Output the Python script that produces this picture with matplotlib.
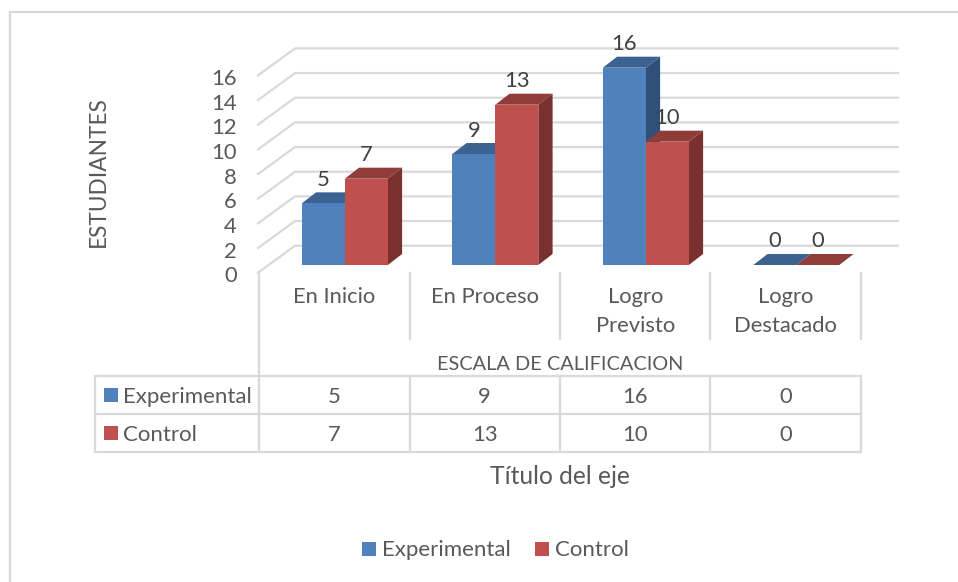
import matplotlib
matplotlib.use("Agg")
import matplotlib.pyplot as plt
from matplotlib.lines import Line2D
from matplotlib.patches import Rectangle
from matplotlib.transforms import ScaledTranslation

plt.rcParams['font.family'] = ['Lato', 'DejaVu Sans']

categories = ["En Inicio", "En Proceso", "Logro\nPrevisto", "Logro\nDestacado"]
experimental = [5, 9, 16, 0]
control = [7, 13, 10, 0]
series_names = ["Experimental", "Control"]
y_ticks = [0, 2, 4, 6, 8, 10, 12, 14, 16]

W, H = 958, 582
BLUE, BLUE_TOP, BLUE_SIDE = "#4F81BD", "#3C6291", "#2F5079"
RED, RED_TOP, RED_SIDE = "#C0504D", "#903C39", "#7A302E"
GRID = "#D9D9D9"
TXT = "#595959"
TXT2 = "#404040"
FS = 15.8
dpi = 100

fig = plt.figure(figsize=(W / dpi, H / dpi), dpi=dpi, facecolor="white")

def fx(p): return p / W
def fy(p): return 1 - p / H

# chart frame
fig.add_artist(Line2D([fx(10), fx(10)], [fy(582), fy(12)], color=GRID, lw=1.6))
fig.add_artist(Line2D([fx(10), fx(958)], [fy(12), fy(12)], color=GRID, lw=1.6))

# plot axes: x = category index, y = value on the plane of the bar fronts
px_left, px_right, px_base, px_top = 259.0, 861.0, 265.0, 67.7
ax = fig.add_axes([fx(px_left), fy(px_base), (px_right - px_left) / W, (px_base - px_top) / H])
ax.set_xlim(0, 4)
ax.set_ylim(0, 16)
ax.patch.set_visible(False)
for s in ax.spines.values():
    s.set_visible(False)

ux = (px_right - px_left) / 4
uy = (px_base - px_top) / 16
def dx(p): return p / ux
def dy(p): return p / uy

# walls
for v in y_ticks:
    back = v + dy(19.3)
    front = v - dy(7.7)
    ax.plot([dx(-1), dx(36), dx(639)], [front, back, back], color=GRID, lw=1.6,
            clip_on=False, zorder=1, solid_joinstyle="miter")

# 3D columns
bw = dx(43)
off = dx(85.8)
ddx, ddy = dx(14.3), dy(11)
for j, (vals, c, ct, cs) in enumerate([(experimental, BLUE, BLUE_TOP, BLUE_SIDE),
                                       (control, RED, RED_TOP, RED_SIDE)]):
    for i, v in enumerate(vals):
        x0 = i + off - bw + j * bw
        x1 = x0 + bw
        z = 3 + j * 3
        ax.fill([x1, x1 + ddx, x1 + ddx, x1], [0, ddy, v + ddy, v], color=cs, lw=0, zorder=z, clip_on=False)
        ax.fill([x0, x0 + ddx, x1 + ddx, x1], [v, v + ddy, v + ddy, v], color=ct, lw=0, zorder=z + 0.1, clip_on=False)
        ax.bar(x0, v, width=bw, align="edge", color=c, lw=0, zorder=z + 0.2, clip_on=False)
        ax.annotate(str(v), (x0 + bw / 2, v), xytext=(0, 23.5 * 72 / dpi), textcoords="offset points",
                    ha="center", va="center", fontsize=FS, color=TXT2, zorder=10, annotation_clip=False)

# value axis labels, on the front edge of the side wall
ax.set_yticks(y_ticks)
ax.set_yticklabels([str(v) for v in y_ticks], fontsize=FS, color=TXT)
ax.tick_params(axis="y", length=0, pad=22 * 72 / dpi)
shift = ScaledTranslation(0, -9.4 / dpi, fig.dpi_scale_trans)
for lab in ax.get_yticklabels():
    lab.set_transform(lab.get_transform() + shift)

# category labels
ax.set_xticks([i + 0.5 for i in range(4)])
ax.set_xticklabels(categories, fontsize=FS, color=TXT, linespacing=1.55)
ax.tick_params(axis="x", length=0, pad=22.5 * 72 / dpi)

ax.set_ylabel("ESTUDIANTES", fontsize=16.3, color=TXT)
ax.yaxis.set_label_coords((109 - px_left) / (px_right - px_left), (px_base - 172) / (px_base - px_top))

# data table
def Y(p): return (px_base - p) / uy
def X(p): return (p - px_left) / ux
row_y = [376.5, 414.5, 452.5]
line = dict(color=GRID, lw=1.6, clip_on=False, zorder=1)
ax.plot([X(259), X(259)], [Y(272.7), Y(452.5)], **line)
for i in range(1, 4):
    ax.plot([i, i], [Y(273), Y(339)], **line)
for i in range(1, 5):
    ax.plot([i, i], [Y(376.5), Y(452.5)], **line)
ax.plot([4, 4], [Y(273), Y(339)], **line)
ax.plot([X(95), X(95)], [Y(376.5), Y(452.5)], **line)
for r in row_y:
    ax.plot([X(95), 4], [Y(r), Y(r)], **line)

ax.text(2, Y(365), "ESCALA DE CALIFICACION", ha="center", va="center", fontsize=14.3, color=TXT)
for k, (name, vals, c) in enumerate([(series_names[0], experimental, BLUE), (series_names[1], control, RED)]):
    yc = (row_y[k] + row_y[k + 1]) / 2
    ax.add_patch(Rectangle((X(104), Y(yc + 7)), dx(14), dy(14), color=c, lw=0, clip_on=False))
    ax.text(X(123), Y(yc + 1.5), name, ha="left", va="center", fontsize=16.0, color=TXT)
    for i, v in enumerate(vals):
        ax.text(i + 0.5, Y(yc + 1.5), str(v), ha="center", va="center", fontsize=FS, color=TXT)

ax.text(2, Y(477), "Título del eje", ha="center", va="center", fontsize=17.7, color=TXT)

# legend
leg_y = 549
for x_sq, x_txt, name, c in [(362, 382, series_names[0], BLUE), (535, 555, series_names[1], RED)]:
    ax.add_patch(Rectangle((X(x_sq), Y(leg_y + 7)), dx(14), dy(14), color=c, lw=0, clip_on=False))
    ax.text(X(x_txt), Y(leg_y + 1.5), name, ha="left", va="center", fontsize=16.0, color=TXT)

fig.savefig("out.png", dpi=dpi)
